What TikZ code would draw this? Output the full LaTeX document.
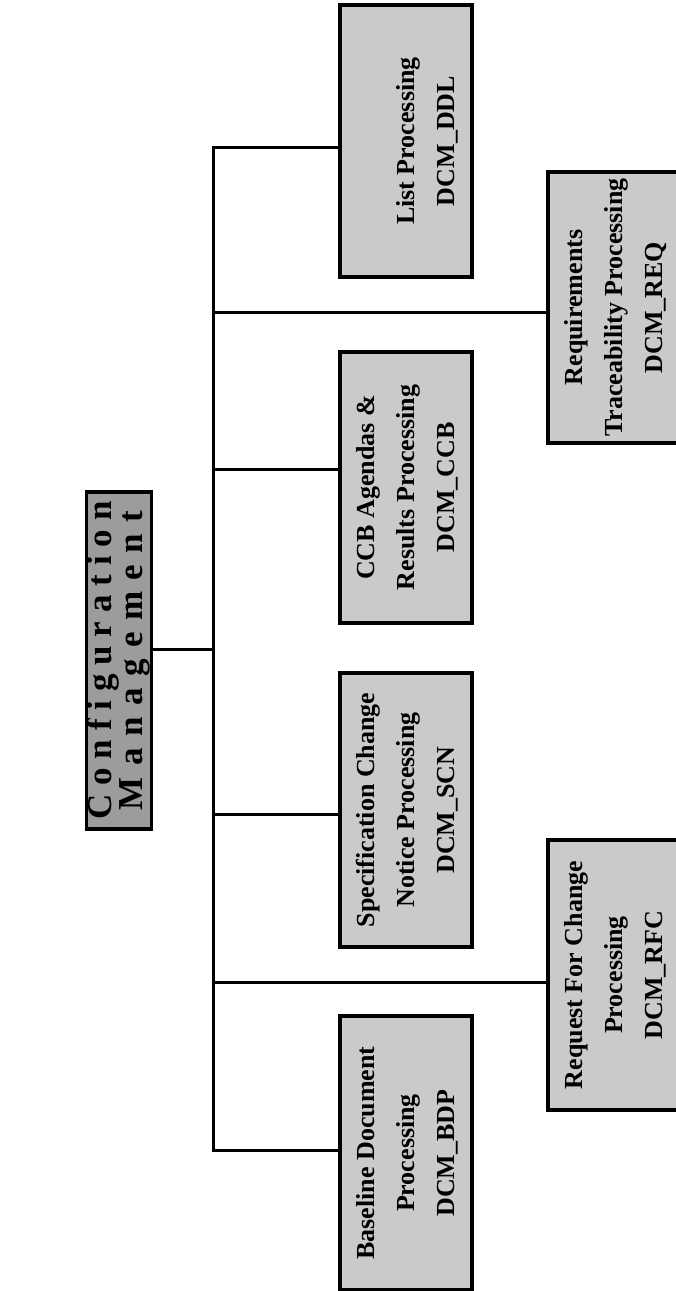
\documentclass[tikz,border=0pt]{standalone}
\usepackage{fontspec}
\setmainfont{Liberation Serif}
\usepackage{graphicx}
\definecolor{boxgray}{HTML}{CACACA}
\definecolor{rootgray}{HTML}{9C9C9C}
% rotated multi-line label, read from bottom to top
\newcommand{\uplabel}[1]{\rotatebox{90}{\fontsize{26}{40}\selectfont\bfseries
  \begin{tabular}{@{}c@{}}#1\end{tabular}}}
\begin{document}
\begin{tikzpicture}[x=1pt,y=-1pt,
  box/.style={draw=black, line width=3.5pt, fill=boxgray, inner sep=0pt,
    minimum width=132pt},
  rootbox/.style={draw=black, line width=3.5pt, fill=rootgray, inner sep=0pt},
  link/.style={draw=black, line width=3pt}]
\useasboundingbox (0,0) rectangle (676,1291);

% top node
\node[rootbox, minimum width=62pt, minimum height=337pt] (root) at (119,660.5)
  {\rotatebox{90}{\fontsize{35}{29}\selectfont\bfseries
   \begin{tabular}{@{}c@{}}
   \makebox[318pt][s]{C\hfil o\hfil n\hfil f\hfil i\hfil g\hfil u\hfil r\hfil a\hfil t\hfil i\hfil o\hfil n}\\
   \makebox[300pt][s]{M\hfil a\hfil n\hfil a\hfil g\hfil e\hfil m\hfil e\hfil n\hfil t}
   \end{tabular}}};

% second level
\node[box, minimum height=272pt] (ddl) at (406,141)
  {\uplabel{\\List Processing\\DCM\_DDL}};
\node[box, minimum height=271pt] (ccb) at (406,487.5)
  {\uplabel{CCB Agendas \&\\Results Processing\\DCM\_CCB}};
\node[box, minimum height=274pt] (scn) at (406,810)
  {\uplabel{Specification Change\\Notice Processing\\DCM\_SCN}};
\node[box, minimum height=274pt] (bdp) at (406,1153)
  {\uplabel{Baseline Document\\Processing\\DCM\_BDP}};

% third level
\node[box, minimum height=271pt] (req) at (614,307.5)
  {\uplabel{Requirements\\Traceability Processing\\DCM\_REQ}};
\node[box, minimum height=270pt] (rfc) at (614,975)
  {\uplabel{Request For Change\\Processing\\DCM\_RFC}};

% bus points
\coordinate (b1) at (213,147);
\coordinate (b2) at (213,312);
\coordinate (b3) at (213,469);
\coordinate (b4) at (213,649);
\coordinate (b5) at (213,814);
\coordinate (b6) at (213,982);
\coordinate (b7) at (213,1150);

% connectors
\draw[link] (b1 -| ddl.west) -- (b1) -- (b7) -- (b7 -| bdp.west);
\draw[link] (root.east |- b4) -- (b4);
\draw[link] (b2) -- (b2 -| req.west);
\draw[link] (b3) -- (b3 -| ccb.west);
\draw[link] (b5) -- (b5 -| scn.west);
\draw[link] (b6) -- (b6 -| rfc.west);
\end{tikzpicture}
\end{document}
